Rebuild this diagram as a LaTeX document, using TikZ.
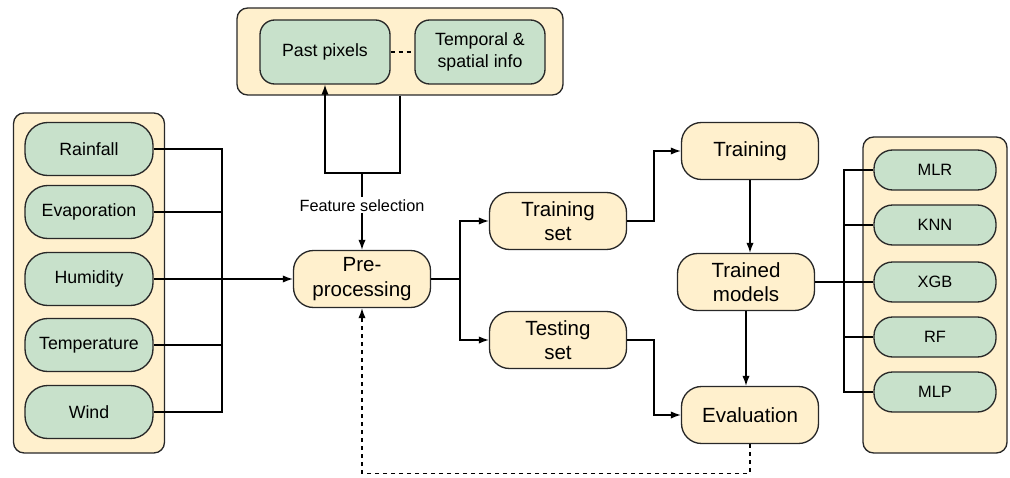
\documentclass[tikz,border=0pt]{standalone}
\usepackage{fontspec}
\setmainfont{Liberation Sans}
\usetikzlibrary{arrows.meta,calc}
\definecolor{gbox}{RGB}{200,225,203}
\definecolor{bbox}{RGB}{255,240,205}
\definecolor{edge}{RGB}{40,40,40}
\tikzset{
  container/.style={draw=edge, fill=bbox, line width=1pt, rounded corners=8pt, inner sep=0pt},
  bigbox/.style={draw=edge, fill=bbox, line width=1pt, rounded corners=15pt, align=center,
    minimum width=102.75pt, minimum height=42.75pt, inner sep=0pt,
    font=\fontsize{15.4}{18.5}\selectfont},
  varbox/.style={draw=edge, fill=gbox, line width=1pt, rounded corners=17pt, align=center,
    minimum width=96pt, minimum height=39.75pt, inner sep=0pt,
    font=\fontsize{13.3}{16.3}\selectfont},
  featbox/.style={draw=edge, fill=gbox, line width=1pt, rounded corners=11pt, align=center,
    minimum width=97.5pt, minimum height=48pt, inner sep=0pt,
    font=\fontsize{13.3}{16.3}\selectfont},
  modbox/.style={draw=edge, fill=gbox, line width=1pt, rounded corners=14pt, align=center,
    minimum width=91.5pt, minimum height=30pt, inner sep=0pt,
    font=\fontsize{12.3}{14.8}\selectfont},
  conn/.style={draw=black, line width=1pt},
  arr/.style={conn, -{Latex[length=7.5pt,width=5.5pt]}},
}
\begin{document}
\begin{tikzpicture}[x=0.75pt,y=-0.75pt]
\useasboundingbox (0,0) rectangle (1010,478);
% containers
\node[container, minimum width=244.5pt, minimum height=65.25pt] (topc) at (400,51.5) {};
\node[container, minimum width=113.25pt, minimum height=255pt] (leftc) at (89,283) {};
\node[container, minimum width=108pt, minimum height=237pt] (rightc) at (935,295) {};
% top features
\node[featbox] (past) at (325,52) {Past pixels};
\node[featbox] (temp) at (480,52) {Temporal \&\\spatial info};
% left variables
\node[varbox] (rain) at (89,149) {Rainfall};
\node[varbox] (evap) at (89,212) {Evaporation};
\node[varbox] (hum) at (89,279) {Humidity};
\node[varbox] (tempr) at (89,345) {Temperature};
\node[varbox] (wind) at (89,412) {Wind};
% process boxes
\node[bigbox] (pre) at (362,279) {Pre-\\processing};
\node[bigbox] (trset) at (558,221) {Training\\set};
\node[bigbox] (teset) at (558,340) {Testing\\set};
\node[bigbox] (train) at (750,151) {Training};
\node[bigbox] (trm) at (746,282) {Trained\\models};
\node[bigbox] (eval) at (750,415) {Evaluation};
% models
\node[modbox] (mlr) at (935,170) {MLR};
\node[modbox] (knn) at (935,225) {KNN};
\node[modbox] (xgb) at (935,282) {XGB};
\node[modbox] (rf) at (935,337) {RF};
\node[modbox] (mlp) at (935,392) {MLP};
% coordinates
\coordinate (busL) at (222,279);
\coordinate (fsj) at (362,173);
\coordinate (split) at (460,279);
\coordinate (busR) at (844,282);
% connectors
\draw[conn, dashed] (past.east) -- (temp.west);
\draw[arr] (topc.south) |- (fsj) -| (past.south);
\draw[arr] (fsj) -- node[pos=0.42, fill=white, inner sep=1.5pt, font=\fontsize{12.2}{14}\selectfont] {Feature selection} (pre.north);
\draw[conn] (rain.east) -| (busL);
\draw[conn] (evap.east) -| (busL);
\draw[conn] (tempr.east) -| (busL);
\draw[conn] (wind.east) -| (busL);
\draw[arr] (hum.east) -- (pre.west);
\draw[conn] (pre.east) -- (split);
\draw[arr] (split) |- (trset.west);
\draw[arr] (split) |- (teset.west);
\draw[arr] (trset.east) -- (654,221) |- (train.west);
\draw[arr] (teset.east) -- (654,340) |- (eval.west);
\draw[arr] (train.south) -- (train.south |- trm.north);
\draw[arr] (trm.south) -- (trm.south |- eval.north);
\draw[arr, dashed] (eval.south) -- ++(0,29) -| (pre.south);
\draw[conn] (trm.east) -- (xgb.west);
\draw[conn] (mlr.west) -| (busR);
\draw[conn] (knn.west) -| (busR);
\draw[conn] (rf.west) -| (busR);
\draw[conn] (mlp.west) -| (busR);
\end{tikzpicture}
\end{document}
